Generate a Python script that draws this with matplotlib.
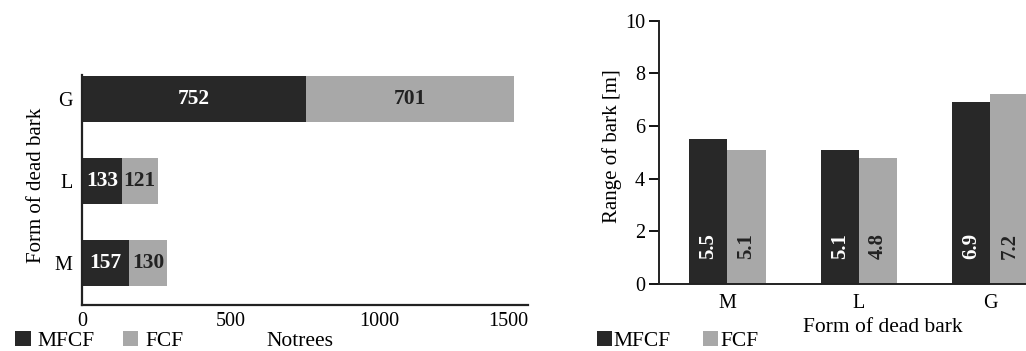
import matplotlib
matplotlib.use("Agg")
import matplotlib.pyplot as plt
import numpy as np

# ---- data ----
forms = ["M", "L", "G"]
trees_mfcf = [157, 133, 752]
trees_fcf = [130, 121, 701]
range_mfcf = [5.5, 5.1, 6.9]
range_fcf = [5.1, 4.8, 7.2]
series_names = ["MFCF", "FCF"]
x_ticks_left = [0, 500, 1000, 1500]
y_ticks_right = [0, 2, 4, 6, 8, 10]

DARK = "#282828"
GREY = "#a8a8a8"
plt.rcParams["font.family"] = ["Liberation Serif", "DejaVu Serif"]
plt.rcParams["font.size"] = 14

fig = plt.figure(figsize=(10.26, 3.51), dpi=100)

# ---- left: stacked horizontal bars ----
axL = fig.add_axes([82 / 1026, 1 - 305 / 351, 446 / 1026, 230 / 351])
y = np.arange(len(forms))
h = 0.56
b1 = axL.barh(y, trees_mfcf, height=h, color=DARK, label=series_names[0])
b2 = axL.barh(y, trees_fcf, height=h, left=trees_mfcf, color=GREY, label=series_names[1])
for i in range(len(forms)):
    axL.text(trees_mfcf[i] / 2, y[i], str(trees_mfcf[i]), color="white",
             ha="center", va="center", fontweight="bold", fontsize=15.5)
    axL.text(trees_mfcf[i] + trees_fcf[i] / 2, y[i], str(trees_fcf[i]), color="#222222",
             ha="center", va="center", fontweight="bold", fontsize=15.5)
axL.set_xlim(0, 1500)
axL.set_ylim(-0.51, 2.29)
axL.set_xticks(x_ticks_left)
axL.set_yticks(y)
axL.set_yticklabels(forms)
axL.tick_params(axis="both", length=0, labelsize=14.5)
axL.tick_params(axis="x", pad=5)
axL.tick_params(axis="y", pad=7)
axL.get_xticklabels()[-1].set_horizontalalignment("right")
for s in ["top", "right"]:
    axL.spines[s].set_visible(False)
for s in ["left", "bottom"]:
    axL.spines[s].set_linewidth(1.6)
    axL.spines[s].set_color("#222222")
fig.text(37 / 1026, 1 - 185 / 351, "Form of dead bark", rotation=90,
         ha="center", va="center", fontsize=15)
fig.text(300 / 1026, 1 - 341 / 351, "Notrees", ha="center", va="center", fontsize=15.5)
fig.legend(handles=[b1, b2], labels=series_names, loc="center left",
           bbox_to_anchor=(15 / 1026, 1 - 341 / 351), ncol=2, frameon=False,
           borderpad=0, borderaxespad=0, handlelength=0.72, handleheight=0.72,
           handletextpad=0.34, columnspacing=1.3, fontsize=15.5)

# ---- right: grouped vertical bars ----
axR = fig.add_axes([659 / 1026, 1 - 284 / 351, 367 / 1026, 263.3 / 351])
x = np.arange(len(forms))
w = 0.29
r1 = axR.bar(x - w / 2, range_mfcf, width=w, color=DARK, label=series_names[0])
r2 = axR.bar(x + w / 2, range_fcf, width=w, color=GREY, label=series_names[1])
for i in range(len(forms)):
    axR.text(x[i] - w / 2, 0.95, f"{range_mfcf[i]}", color="white", rotation=90,
             ha="center", va="bottom", fontweight="bold", fontsize=15)
    axR.text(x[i] + w / 2, 0.95, f"{range_fcf[i]}", color="#222222", rotation=90,
             ha="center", va="bottom", fontweight="bold", fontsize=15)
axR.set_xlim(-0.52, 2.27)
axR.set_ylim(0, 10)
axR.set_yticks(y_ticks_right)
axR.set_xticks(x)
axR.set_xticklabels(forms)
axR.tick_params(axis="x", length=0, pad=7, labelsize=14.5)
axR.tick_params(axis="y", length=7, width=1.3, direction="out", pad=3, labelsize=14.5)
for s in ["top", "right"]:
    axR.spines[s].set_visible(False)
for s in ["left", "bottom"]:
    axR.spines[s].set_linewidth(1.4)
    axR.spines[s].set_color("#222222")
fig.text(612 / 1026, 1 - 146 / 351, "Range of bark [m]", rotation=90,
         ha="center", va="center", fontsize=15)
fig.text(883 / 1026, 1 - 328 / 351, "Form of dead bark", ha="center", va="center", fontsize=15.5)
fig.legend(handles=[r1, r2], labels=series_names, loc="center left",
           bbox_to_anchor=(597 / 1026, 1 - 341 / 351), ncol=2, frameon=False,
           borderpad=0, borderaxespad=0, handlelength=0.68, handleheight=0.68,
           handletextpad=0.1, columnspacing=1.5, fontsize=15.5)

fig.savefig("out.png", dpi=100)
